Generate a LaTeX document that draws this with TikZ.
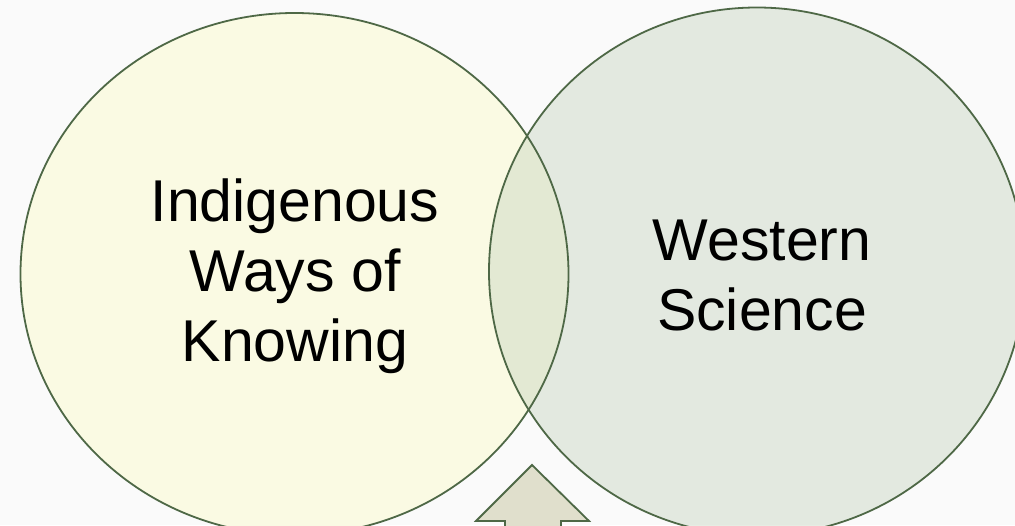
\documentclass[tikz,border=0pt]{standalone}
\usepackage{fontspec}
\setmainfont{Liberation Sans}
\definecolor{bg}{RGB}{250,250,250}
\definecolor{leftfill}{RGB}{250,250,227}
\definecolor{rightfill}{RGB}{199,213,192}
\definecolor{edge}{RGB}{78,104,70}
\definecolor{arrowfill}{RGB}{224,223,204}
\tikzset{
  setshape/.style={draw=edge, line width=1.8pt},
  label/.style={align=center, font=\fontsize{59}{70}\selectfont, text=black, inner sep=0pt},
}
\begin{document}
\begin{tikzpicture}[x=1pt,y=-1pt]
\useasboundingbox (0,0) rectangle (1015,525);
\fill[bg] (0,0) rectangle (1015,525);
\clip (0,0) rectangle (1015,525);
% left set
\fill[leftfill] (294.5,274) ellipse [x radius=274, y radius=261];
% right set (semi-transparent)
\fill[rightfill, fill opacity=0.44] (757,271.5) ellipse [x radius=268, y radius=264];
\draw[setshape] (294.5,274) ellipse [x radius=274, y radius=261];
\draw[setshape] (757,271.5) ellipse [x radius=268, y radius=264];
% arrow
\draw[setshape, fill=arrowfill, line join=miter]
  (532,465) -- (589,521) -- (561,521) -- (561,540) -- (505,540) -- (505,521) -- (476,521) -- cycle;
\node[label] (indig) at (295,276) {Indigenous\\Ways of\\Knowing};
\node[label] (west) at (762,275) {Western\\Science};
\end{tikzpicture}
\end{document}
